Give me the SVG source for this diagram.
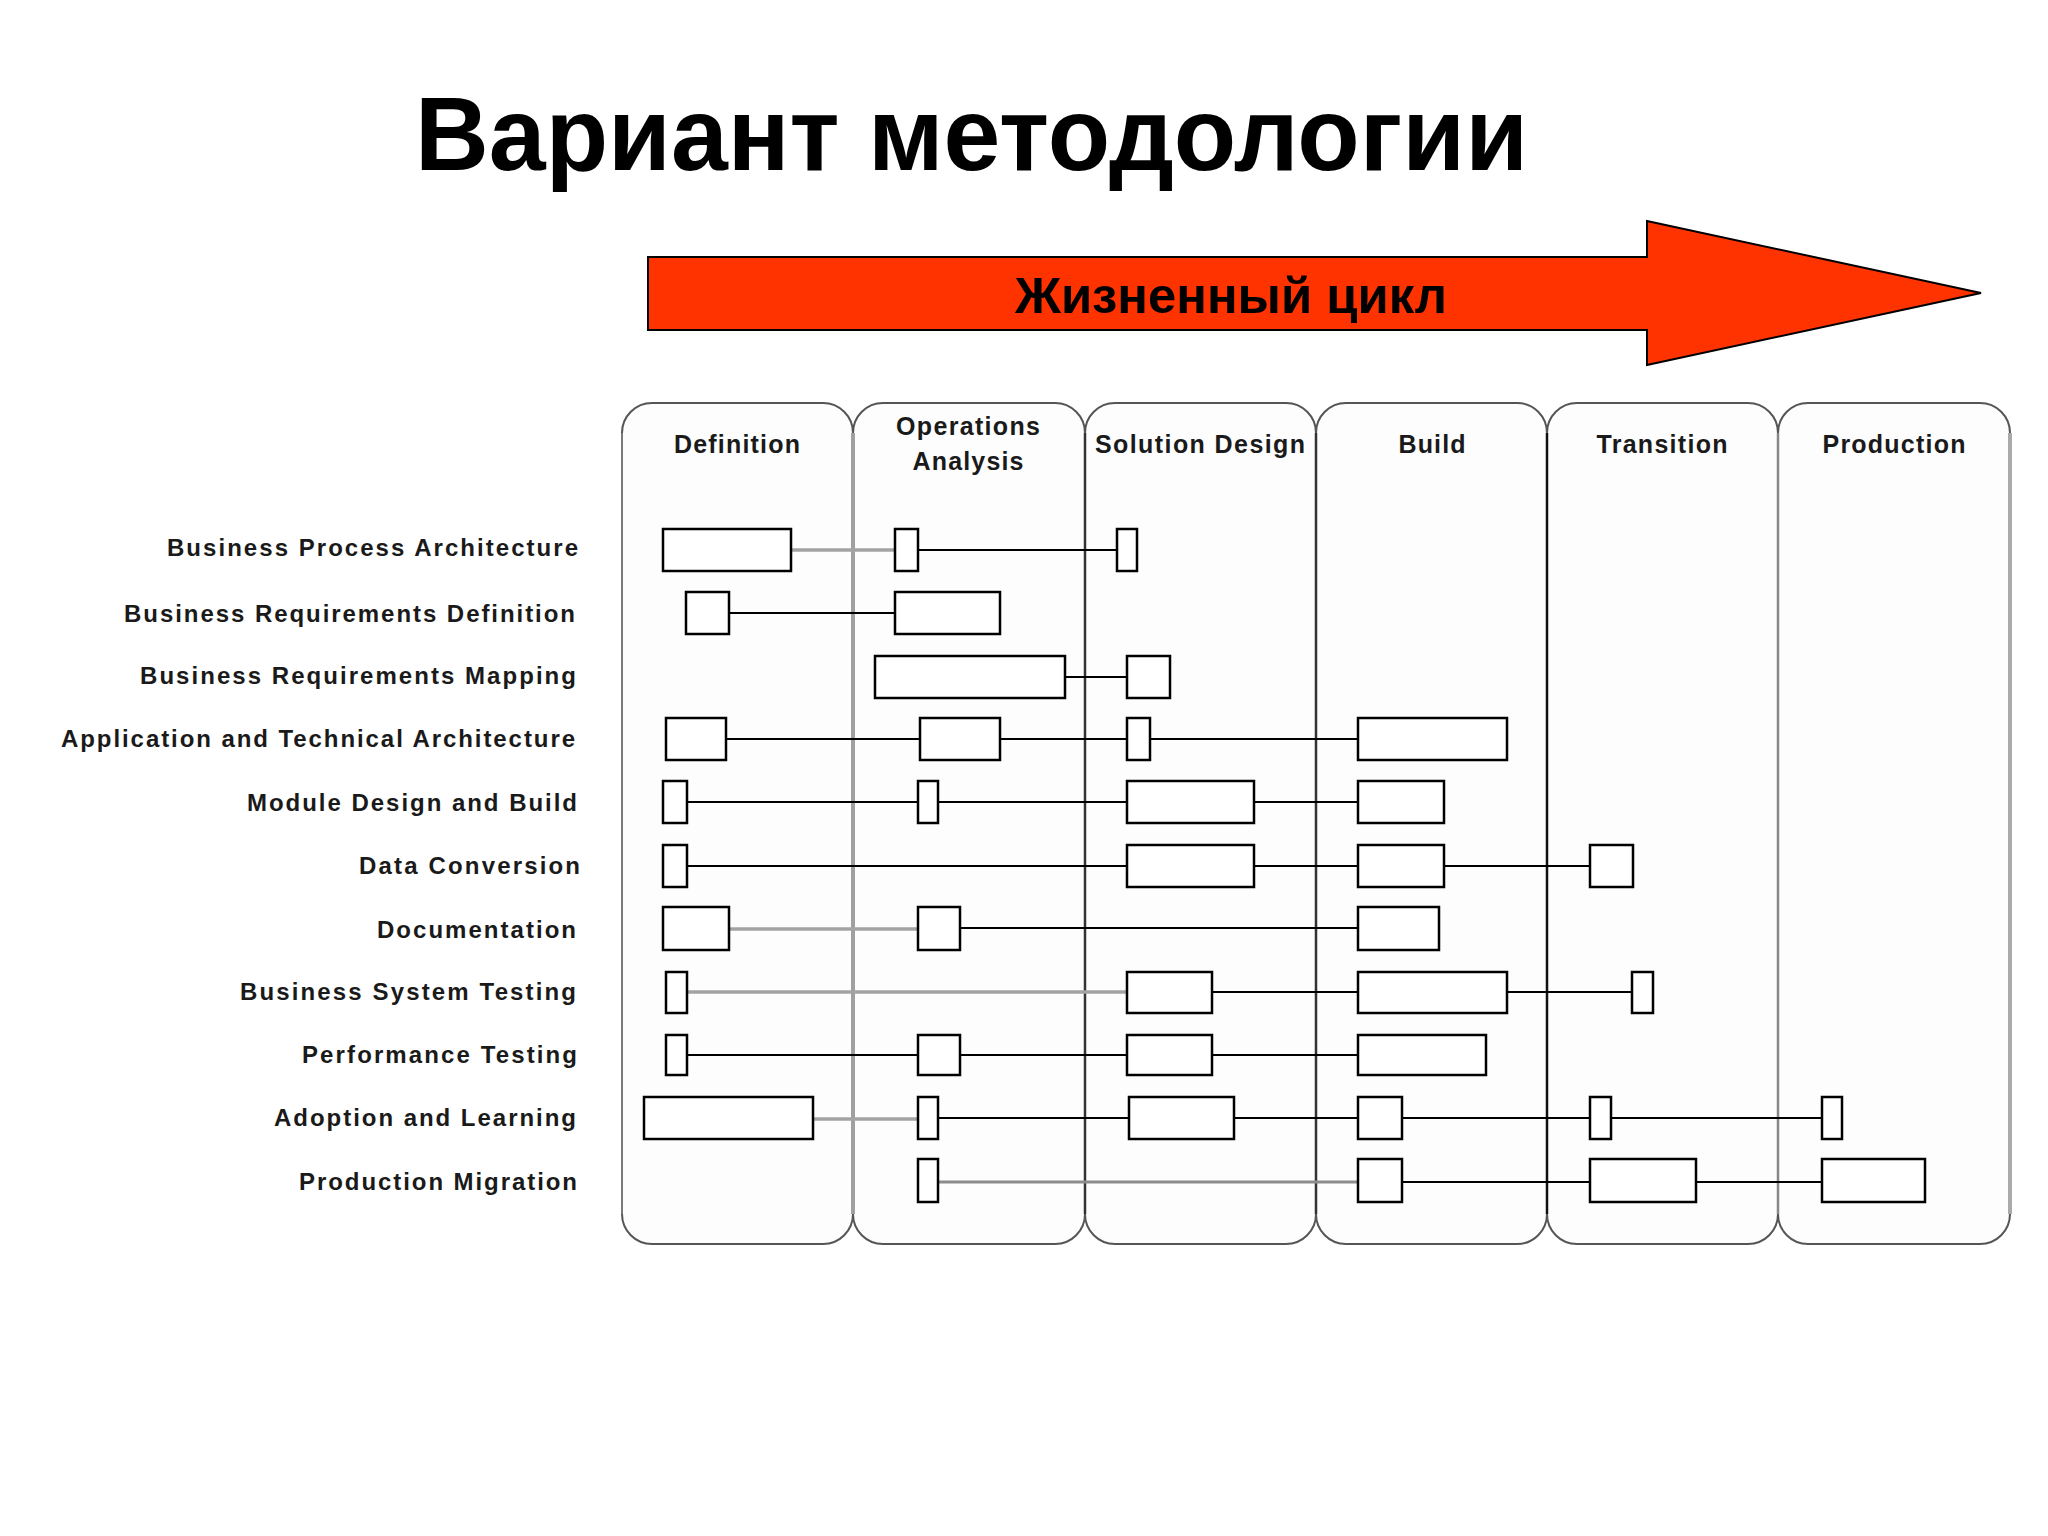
<svg xmlns="http://www.w3.org/2000/svg" width="2048" height="1536" viewBox="0 0 2048 1536">
<style>
.t{font-family:"Liberation Sans",Arial,sans-serif;font-weight:bold;fill:#000}
.hd{font-family:"Liberation Sans",Arial,sans-serif;font-weight:bold;font-size:25px;fill:#1a1a1a;text-anchor:middle}
.lb{font-family:"Liberation Sans",Arial,sans-serif;font-weight:bold;font-size:24px;fill:#1a1a1a;text-anchor:end}
.col{fill:#fdfdfd;stroke:#555;stroke-width:2}
.bx{fill:#fff;stroke:#000;stroke-width:2.5}
.ln{stroke:#000;stroke-width:2.2;fill:none}
.gl{stroke:#a3a3a3;stroke-width:3.5;fill:none}
.gl2{stroke:#8c8c8c;stroke-width:3;fill:none}
</style>
<rect width="2048" height="1536" fill="#fff"/>
<g id="title"><text class="t" x="415" y="170" font-size="104" textLength="1113" lengthAdjust="spacingAndGlyphs">Вариант методологии</text></g>
<g id="lifecycle-arrow">
<polygon points="648,257 1647,257 1647,221 1981,293 1647,365 1647,330 648,330" fill="#ff3300" stroke="#000" stroke-width="2"/>
<text class="t" x="1015" y="313" font-size="50" textLength="432" lengthAdjust="spacingAndGlyphs">Жизненный цикл</text>
</g>
<g id="phases">
<g id="phase-definition"><path class="col" d="M622,433 A30,30 0 0 1 652,403 H823 A30,30 0 0 1 853,433 V1214 A30,30 0 0 1 823,1244 H652 A30,30 0 0 1 622,1214 Z"/><text class="hd" x="737" y="453" textLength="126">Definition</text></g>
<g id="phase-operations"><path class="col" d="M853,433 A30,30 0 0 1 883,403 H1055 A30,30 0 0 1 1085,433 V1214 A30,30 0 0 1 1055,1244 H883 A30,30 0 0 1 853,1214 Z"/><text class="hd" x="968" y="435" textLength="144">Operations</text><text class="hd" x="968" y="470" textLength="111">Analysis</text></g>
<g id="phase-solution"><path class="col" d="M1085,433 A30,30 0 0 1 1115,403 H1286 A30,30 0 0 1 1316,433 V1214 A30,30 0 0 1 1286,1244 H1115 A30,30 0 0 1 1085,1214 Z"/><text class="hd" x="1200" y="453" textLength="210">Solution Design</text></g>
<g id="phase-build"><path class="col" d="M1316,433 A30,30 0 0 1 1346,403 H1517 A30,30 0 0 1 1547,433 V1214 A30,30 0 0 1 1517,1244 H1346 A30,30 0 0 1 1316,1214 Z"/><text class="hd" x="1432" y="453" textLength="67">Build</text></g>
<g id="phase-transition"><path class="col" d="M1547,433 A30,30 0 0 1 1577,403 H1748 A30,30 0 0 1 1778,433 V1214 A30,30 0 0 1 1748,1244 H1577 A30,30 0 0 1 1547,1214 Z"/><text class="hd" x="1662" y="453" textLength="131">Transition</text></g>
<g id="phase-production"><path class="col" d="M1778,433 A30,30 0 0 1 1808,403 H1980 A30,30 0 0 1 2010,433 V1214 A30,30 0 0 1 1980,1244 H1808 A30,30 0 0 1 1778,1214 Z"/><text class="hd" x="1894" y="453" textLength="143">Production</text></g>
<g id="phase-edges" fill="none">
<line x1="622" y1="433" x2="622" y2="1214" stroke="#7a7a7a" stroke-width="2"/>
<line x1="853" y1="433" x2="853" y2="1214" stroke="#a0a0a0" stroke-width="4"/>
<line x1="1085" y1="433" x2="1085" y2="1214" stroke="#333" stroke-width="2.5"/>
<line x1="1316" y1="433" x2="1316" y2="1214" stroke="#333" stroke-width="2.5"/>
<line x1="1547" y1="433" x2="1547" y2="1214" stroke="#111" stroke-width="2.5"/>
<line x1="1778" y1="433" x2="1778" y2="1214" stroke="#888" stroke-width="2.5"/>
<line x1="2010" y1="433" x2="2010" y2="1214" stroke="#aaa" stroke-width="4"/>
</g>
</g>
<g id="labels">
<text class="lb" x="578" y="556" textLength="411">Business Process Architecture</text>
<text class="lb" x="575" y="622" textLength="451">Business Requirements Definition</text>
<text class="lb" x="576" y="684" textLength="436">Business Requirements Mapping</text>
<text class="lb" x="575" y="747" textLength="514">Application and Technical Architecture</text>
<text class="lb" x="577" y="811" textLength="330">Module Design and Build</text>
<text class="lb" x="580" y="874" textLength="221">Data Conversion</text>
<text class="lb" x="576" y="938" textLength="199">Documentation</text>
<text class="lb" x="576" y="1000" textLength="336">Business System Testing</text>
<text class="lb" x="577" y="1063" textLength="275">Performance Testing</text>
<text class="lb" x="576" y="1126" textLength="302">Adoption and Learning</text>
<text class="lb" x="577" y="1190" textLength="278">Production Migration</text>
</g>
<g id="connectors">
<line class="gl" x1="791" y1="550" x2="895" y2="550"/>
<line class="ln" x1="918" y1="550" x2="1117" y2="550"/>
<line class="ln" x1="729" y1="613" x2="895" y2="613"/>
<line class="ln" x1="1065" y1="677" x2="1127" y2="677"/>
<line class="ln" x1="726" y1="739" x2="920" y2="739"/>
<line class="ln" x1="1000" y1="739" x2="1127" y2="739"/>
<line class="ln" x1="1150" y1="739" x2="1358" y2="739"/>
<line class="ln" x1="687" y1="802" x2="918" y2="802"/>
<line class="ln" x1="938" y1="802" x2="1127" y2="802"/>
<line class="ln" x1="1254" y1="802" x2="1358" y2="802"/>
<line class="ln" x1="687" y1="866" x2="1127" y2="866"/>
<line class="ln" x1="1254" y1="866" x2="1358" y2="866"/>
<line class="ln" x1="1444" y1="866" x2="1590" y2="866"/>
<line class="gl" x1="729" y1="929" x2="918" y2="929"/>
<line class="ln" x1="960" y1="928" x2="1358" y2="928"/>
<line class="gl" x1="687" y1="992" x2="1127" y2="992"/>
<line class="ln" x1="1212" y1="992" x2="1358" y2="992"/>
<line class="ln" x1="1507" y1="992" x2="1632" y2="992"/>
<line class="ln" x1="687" y1="1055" x2="918" y2="1055"/>
<line class="ln" x1="960" y1="1055" x2="1127" y2="1055"/>
<line class="ln" x1="1212" y1="1055" x2="1358" y2="1055"/>
<line class="gl" x1="813" y1="1119" x2="918" y2="1119"/>
<line class="ln" x1="938" y1="1118" x2="1129" y2="1118"/>
<line class="ln" x1="1234" y1="1118" x2="1358" y2="1118"/>
<line class="ln" x1="1402" y1="1118" x2="1590" y2="1118"/>
<line class="ln" x1="1611" y1="1118" x2="1822" y2="1118"/>
<line class="gl2" x1="938" y1="1182" x2="1358" y2="1182"/>
<line class="ln" x1="1402" y1="1182" x2="1590" y2="1182"/>
<line class="ln" x1="1696" y1="1182" x2="1822" y2="1182"/>
</g>
<g id="row-bpa"><rect class="bx" x="663" y="529" width="128" height="42"/><rect class="bx" x="895" y="529" width="23" height="42"/><rect class="bx" x="1117" y="529" width="20" height="42"/></g>
<g id="row-brd"><rect class="bx" x="686" y="592" width="43" height="42"/><rect class="bx" x="895" y="592" width="105" height="42"/></g>
<g id="row-brm"><rect class="bx" x="875" y="656" width="190" height="42"/><rect class="bx" x="1127" y="656" width="43" height="42"/></g>
<g id="row-ata"><rect class="bx" x="666" y="718" width="60" height="42"/><rect class="bx" x="920" y="718" width="80" height="42"/><rect class="bx" x="1127" y="718" width="23" height="42"/><rect class="bx" x="1358" y="718" width="149" height="42"/></g>
<g id="row-mdb"><rect class="bx" x="663" y="781" width="24" height="42"/><rect class="bx" x="918" y="781" width="20" height="42"/><rect class="bx" x="1127" y="781" width="127" height="42"/><rect class="bx" x="1358" y="781" width="86" height="42"/></g>
<g id="row-dc"><rect class="bx" x="663" y="845" width="24" height="42"/><rect class="bx" x="1127" y="845" width="127" height="42"/><rect class="bx" x="1358" y="845" width="86" height="42"/><rect class="bx" x="1590" y="845" width="43" height="42"/></g>
<g id="row-doc"><rect class="bx" x="663" y="907" width="66" height="43"/><rect class="bx" x="918" y="907" width="42" height="43"/><rect class="bx" x="1358" y="907" width="81" height="43"/></g>
<g id="row-bst"><rect class="bx" x="666" y="972" width="21" height="41"/><rect class="bx" x="1127" y="972" width="85" height="41"/><rect class="bx" x="1358" y="972" width="149" height="41"/><rect class="bx" x="1632" y="972" width="21" height="41"/></g>
<g id="row-pt"><rect class="bx" x="666" y="1035" width="21" height="40"/><rect class="bx" x="918" y="1035" width="42" height="40"/><rect class="bx" x="1127" y="1035" width="85" height="40"/><rect class="bx" x="1358" y="1035" width="128" height="40"/></g>
<g id="row-al"><rect class="bx" x="644" y="1097" width="169" height="42"/><rect class="bx" x="918" y="1097" width="20" height="42"/><rect class="bx" x="1129" y="1097" width="105" height="42"/><rect class="bx" x="1358" y="1097" width="44" height="42"/><rect class="bx" x="1590" y="1097" width="21" height="42"/><rect class="bx" x="1822" y="1097" width="20" height="42"/></g>
<g id="row-pm"><rect class="bx" x="918" y="1159" width="20" height="43"/><rect class="bx" x="1358" y="1159" width="44" height="43"/><rect class="bx" x="1590" y="1159" width="106" height="43"/><rect class="bx" x="1822" y="1159" width="103" height="43"/></g>
</svg>
